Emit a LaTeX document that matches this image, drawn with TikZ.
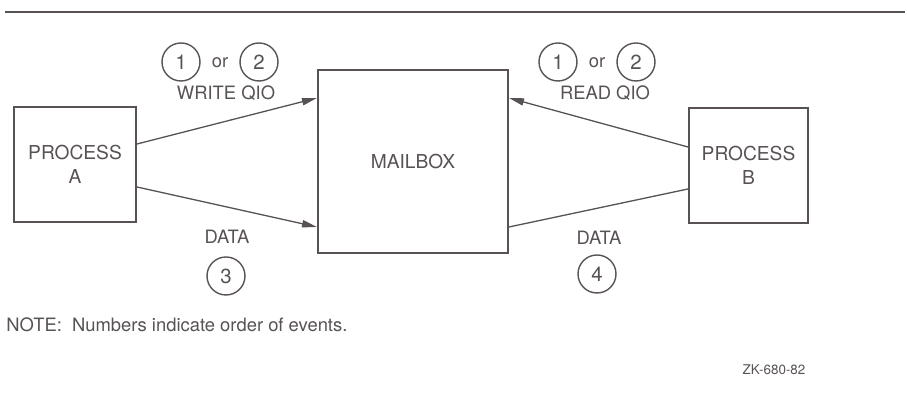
\documentclass[tikz,border=0pt]{standalone}
\usepackage{fontspec}
\setmainfont{TeX Gyre Heros}
\usepackage{tikz}
\usetikzlibrary{positioning,calc}
\usetikzlibrary{arrows.meta}
\definecolor{DecGray}{RGB}{88,82,82}
\tikzset{box/.style={draw=DecGray,line width=1pt,align=center,text=DecGray,font=\fontsize{9.6}{12}\selectfont,inner sep=0pt},
num/.style={circle,draw=DecGray,line width=0.7pt,minimum size=19pt,inner sep=0pt,text=DecGray,font=\fontsize{10.2}{11}\selectfont},
lbl/.style={text=DecGray,font=\fontsize{9.2}{10}\selectfont,inner sep=0pt},
flow/.style={draw=DecGray,line width=0.65pt},
arr/.style={flow,-{Triangle[length=7.5pt,width=3.6pt]}}}
\begin{document}
\begin{tikzpicture}[x=0.5pt,y=-0.5pt]
\useasboundingbox (0,0) rectangle (907,399);
\coordinate (rl) at (5,12);
\coordinate (rr) at (905,12);
\draw[draw=DecGray,line width=1.4pt] (rl) -- (rr);
\node[box,minimum width=61pt,minimum height=57.5pt] (procA) at (75,164.5) {PROCESS\\A};
\node[box,minimum width=95pt,minimum height=91.5pt] (mbox) at (413,161.5) {MAILBOX};
\node[box,minimum width=59.5pt,minimum height=57.5pt] (procB) at (748.5,165.5) {PROCESS\\B};
% write side
\draw[arr] ([yshift=10.25pt]procA.east) -- ([yshift=31.75pt]mbox.west);
\draw[arr] ([yshift=-11.25pt]procA.east) -- ([yshift=-32.75pt]mbox.west);
% read side
\draw[arr] ([yshift=9.25pt]procB.west) -- ([yshift=31.75pt]mbox.east);
\draw[flow] ([yshift=-32.75pt]mbox.east) -- ([yshift=-11.75pt]procB.west);
\node[num] (wa) at (181,62) {1};
\node[lbl] (wor) at (220,63) {or};
\node[num] (wb) at (259,62) {2};
\node[lbl] (wq) at (226,93) {WRITE QIO};
\node[num] (ra) at (558,62) {1};
\node[lbl] (ror) at (597,63) {or};
\node[num] (rb) at (636,62) {2};
\node[lbl] (rq) at (605,93) {READ QIO};
\node[lbl] (dl) at (227,237) {DATA};
\node[num] (n3) at (226,276) {3};
\node[lbl] (dr) at (599,238) {DATA};
\node[num] (n4) at (597,274) {4};
\node[lbl,anchor=west,font=\fontsize{9.2}{10}\selectfont] (note) at (6,325) {NOTE:\ \ Numbers indicate order of events.};
\node[lbl,font=\fontsize{6.7}{8}\selectfont] (zk) at (774,370) {ZK-680-82};
\end{tikzpicture}
\end{document}
